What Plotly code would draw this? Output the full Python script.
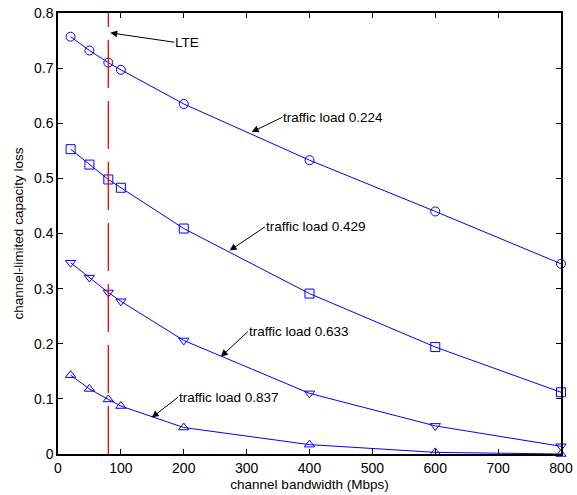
import plotly.graph_objects as go

bandwidth = [20, 50, 80, 100, 200, 400, 600, 800]
loss_0224 = [0.757, 0.732, 0.710, 0.697, 0.635, 0.533, 0.440, 0.345]
loss_0429 = [0.553, 0.525, 0.498, 0.483, 0.409, 0.291, 0.194, 0.112]
loss_0633 = [0.347, 0.320, 0.293, 0.277, 0.206, 0.110, 0.051, 0.014]
loss_0837 = [0.143, 0.118, 0.099, 0.087, 0.048, 0.017, 0.003, 0.000]
lte_bandwidth = 80

series = [
    (loss_0224, "circle-open"),
    (loss_0429, "square-open"),
    (loss_0633, "triangle-down-open"),
    (loss_0837, "triangle-up-open"),
]

FONT = "Liberation Sans, Arial"
BLUE = "#0000ff"
fig = go.Figure()
for vals, sym in series:
    fig.add_trace(go.Scatter(
        x=bandwidth, y=vals, mode="lines+markers",
        line=dict(color=BLUE, width=1),
        marker=dict(symbol=sym, size=9, color=BLUE, line=dict(width=1, color=BLUE)),
        cliponaxis=False, showlegend=False,
    ))

fig.add_shape(type="line", xref="x", yref="y", x0=lte_bandwidth, x1=lte_bandwidth,
              y0=0, y1=0.8, line=dict(color="rgb(255,0,0)", width=1.3, dash="48px,13px"))

# annotations: (text, head x, head y, tail x, tail y)
notes = [
    ("LTE", 83, 0.764, 185, 0.747),
    ("traffic load 0.224", 308, 0.584, 357, 0.611),
    ("traffic load 0.429", 273, 0.369, 329, 0.412),
    ("traffic load 0.633", 259, 0.1765, 302, 0.222),
    ("traffic load 0.837", 149, 0.066, 191, 0.103),
]
for txt, hx, hy, tx, ty in notes:
    fig.add_annotation(
        x=hx, y=hy, ax=tx, ay=ty, xref="x", yref="y", axref="x", ayref="y",
        text=txt, showarrow=True, arrowhead=2, arrowsize=1.4, arrowwidth=1,
        arrowcolor="black", xanchor="left", yanchor="middle",
        font=dict(size=13.5, color="black", family=FONT),
        borderpad=0,
    )

axis_common = dict(
    showgrid=False, zeroline=False, showline=True, linecolor="black", linewidth=1.5,
    mirror="ticks", ticks="inside", ticklen=5, tickcolor="black", tickwidth=1,
    tickfont=dict(size=14, color="black", family=FONT), automargin=False,
)
fig.update_xaxes(range=[0, 800], dtick=100, tick0=0,
                 title=dict(text="channel bandwidth (Mbps)", standoff=5,
                            font=dict(size=13.5, color="black", family=FONT)),
                 **axis_common)
fig.update_yaxes(range=[0, 0.8], dtick=0.1, tick0=0,
                 title=dict(text="channel-limited capacity loss", standoff=7,
                            font=dict(size=13.5, color="black", family=FONT)),
                 **axis_common)

fig.update_layout(
    width=577, height=495,
    margin=dict(l=58, r=16, t=13, b=41),
    plot_bgcolor="white", paper_bgcolor="white",
    font=dict(family=FONT, color="black"),
)

fig.write_html("out.html")
